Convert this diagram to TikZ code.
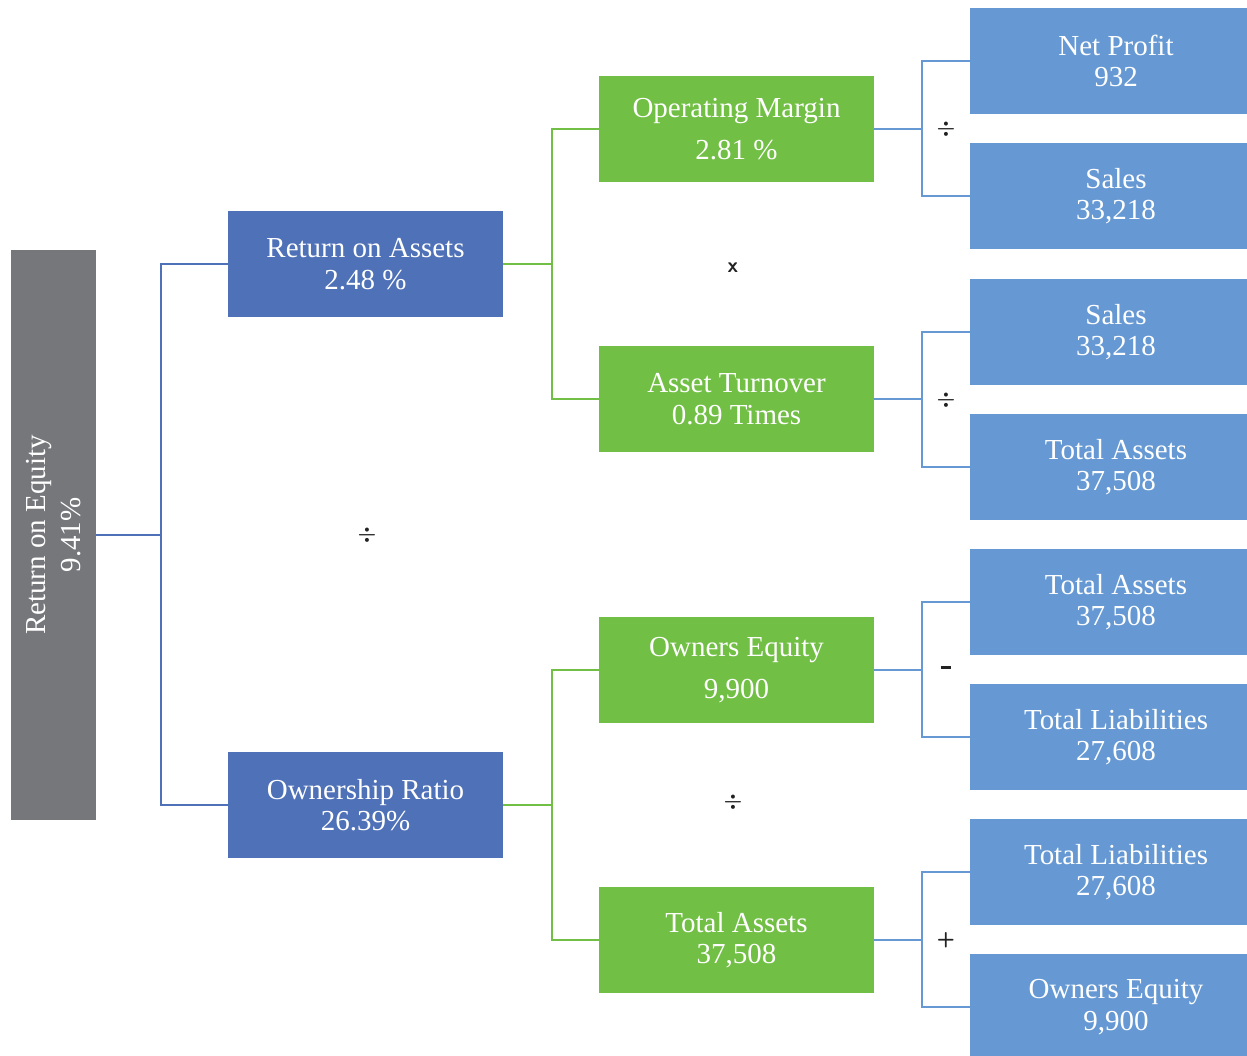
\documentclass[tikz,border=0pt]{standalone}
\usepackage{fontspec}
\setmainfont{Liberation Serif}
\definecolor{roeGray}{HTML}{76777B}
\definecolor{midBlue}{HTML}{4F71B7}
\definecolor{leafBlue}{HTML}{6699D3}
\definecolor{ratioGreen}{HTML}{72BF45}
\definecolor{opInk}{HTML}{222222}
\tikzset{
  box/.style={inner sep=0pt,minimum width=5.5cm,minimum height=2.12cm,
    text=white,align=center,font=\fontsize{16.5}{17.8}\selectfont},
  rootbox/.style={box,fill=roeGray,minimum width=11.4cm,minimum height=1.7cm,rotate=90},
  blubox/.style={box,fill=midBlue},
  grnbox/.style={box,fill=ratioGreen},
  leafbox/.style={box,fill=leafBlue,minimum width=5.84cm},
  bluelink/.style={midBlue,line width=1.2pt},
  grnlink/.style={ratioGreen,line width=1.2pt},
  leaflink/.style={leafBlue,line width=1.2pt},
  oper/.style={text=opInk,font=\sffamily\bfseries\large\boldmath}
}
\begin{document}
\begin{tikzpicture}[x=0.02cm,y=-0.02cm]
\useasboundingbox (0,0) rectangle (1247,1055);
% Rendiment: arbre de ratios
\node[rootbox] (roe) at (53.5,535) {Return on Equity\\[2pt]9.41\%};
\node[blubox] (roa) at (365.5,264) {Return on Assets\\2.48 \%};
\node[blubox] (own) at (365.5,805) {Ownership Ratio\\26.39\%};
\node[grnbox] (opm) at (736.5,129) {Operating Margin\\[6pt]2.81 \%};
\node[grnbox] (atn) at (736.5,399) {Asset Turnover\\0.89 Times};
\node[grnbox] (oeq) at (736.5,670) {Owners Equity\\[6pt]9,900};
\node[grnbox] (tas) at (736.5,940) {Total Assets\\37,508};
% Fulles (tallades pel marge dret)
\node[leafbox] (np) at (1116,61) {Net Profit\\932};
\node[leafbox] (sa1) at (1116,196) {Sales\\33,218};
\node[leafbox] (sa2) at (1116,332) {Sales\\33,218};
\node[leafbox] (ta1) at (1116,467) {Total Assets\\37,508};
\node[leafbox] (ta2) at (1116,602) {Total Assets\\37,508};
\node[leafbox] (tl1) at (1116,737) {Total Liabilities\\27,608};
\node[leafbox] (tl2) at (1116,872) {Total Liabilities\\27,608};
\node[leafbox] (oe2) at (1116,1007) {Owners Equity\\9,900};
% Unions
\coordinate (j0) at (161,535);
\coordinate (j1) at (552,264);
\coordinate (j2) at (552,805);
\coordinate (j3) at (922,129);
\coordinate (j4) at (922,399);
\coordinate (j5) at (922,670);
\coordinate (j6) at (922,940);
\draw[bluelink] (roe.south) -- (j0);
\draw[bluelink] (roa.west) -| (j0) |- (own.west);
\draw[grnlink] (roa.east) -- (j1);
\draw[grnlink] (opm.west) -| (j1) |- (atn.west);
\draw[grnlink] (own.east) -- (j2);
\draw[grnlink] (oeq.west) -| (j2) |- (tas.west);
\draw[leaflink] (opm.east) -- (j3);
\draw[leaflink] (np.west) -| (j3) |- (sa1.west);
\draw[leaflink] (atn.east) -- (j4);
\draw[leaflink] (sa2.west) -| (j4) |- (ta1.west);
\draw[leaflink] (oeq.east) -- (j5);
\draw[leaflink] (ta2.west) -| (j5) |- (tl1.west);
\draw[leaflink] (tas.east) -- (j6);
\draw[leaflink] (tl2.west) -| (j6) |- (oe2.west);
% Operadors
\node[oper] (op0) at (367,535) {$\div$};
\node[oper] (op1) at (733,268) {x};
\node[oper] (op2) at (733,802) {$\div$};
\node[oper] (op3) at (946,129) {$\div$};
\node[oper] (op4) at (946,400) {$\div$};
\node[oper] (op5) at (946,670) {\rule[0.6ex]{0.5em}{1.8pt}};
\node[oper] (op6) at (946,940) {+};
\end{tikzpicture}
\end{document}
